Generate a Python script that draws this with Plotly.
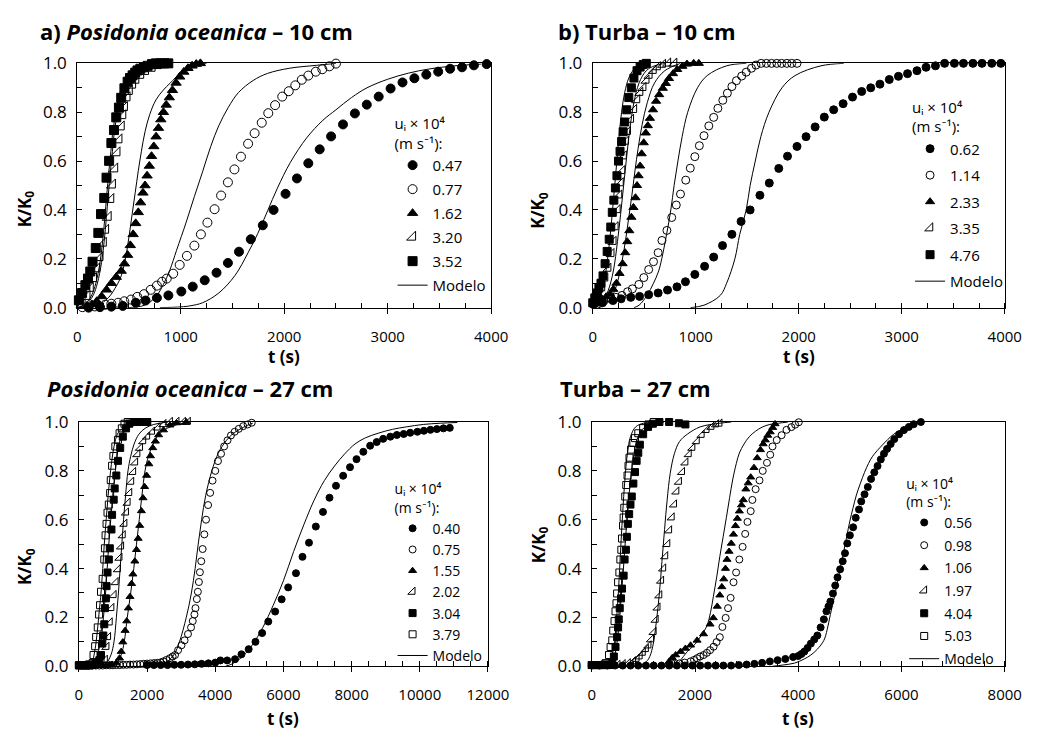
import plotly.graph_objects as go

W, H = 1057, 749
FONT = "'Open Sans', Lato, sans-serif"

# ---------------- Panel a) Posidonia oceanica - 10 cm ----------------
A_T_047 = [110,220,330,440,566,660,770,881,1006,1116,1232,1346,1456,1563,1677,1793,1897,2013,2123,2233,2343,2453,2568,2683,2798,2913,3028,3143,3258,3373,3488,3603,3718,3833,3956]
A_K_047 = [0.0,0.002,0.004,0.007,0.02,0.029,0.04,0.05,0.066,0.086,0.112,0.143,0.183,0.229,0.28,0.337,0.4,0.466,0.529,0.591,0.648,0.701,0.75,0.795,0.831,0.864,0.897,0.922,0.939,0.954,0.966,0.978,0.984,0.992,0.997]
A_T_077 = [50,170,270,330,395,455,520,580,645,710,770,820,865,927,990,1060,1132,1195,1258,1327,1390,1456,1519,1582,1651,1714,1783,1846,1912,1981,2044,2107,2170,2233,2305,2368,2437,2500]
A_K_077 = [0.002,0.005,0.012,0.016,0.02,0.026,0.033,0.044,0.055,0.073,0.09,0.106,0.119,0.139,0.175,0.212,0.254,0.3,0.348,0.403,0.459,0.513,0.566,0.618,0.671,0.714,0.757,0.796,0.829,0.864,0.886,0.91,0.933,0.95,0.966,0.976,0.988,0.999]
A_T_162 = [94,142,189,236,283,330,377,425,456,487,513,540,565,590,612,635,655,675,697,718,740,762,785,808,833,860,890,920,955,990,1030,1070,1110,1150,1190]
A_K_162 = [0.007,0.013,0.026,0.046,0.073,0.1,0.125,0.15,0.18,0.215,0.255,0.3,0.345,0.39,0.43,0.47,0.5,0.54,0.58,0.62,0.66,0.7,0.735,0.77,0.8,0.83,0.86,0.89,0.92,0.945,0.965,0.98,0.99,0.997,1.0]
A_T_320 = [47,94,126,157,189,220,252,274,299,324,340,362,384,403,425,440,456,481,503,535,566,613,660,723,786,849]
A_K_320 = [0.013,0.046,0.079,0.119,0.159,0.205,0.264,0.317,0.37,0.443,0.502,0.568,0.634,0.687,0.74,0.786,0.819,0.859,0.885,0.911,0.931,0.951,0.967,0.98,0.991,0.997]
A_T_352 = [16,47,79,104,126,148,179,204,230,261,283,308,330,355,377,403,425,456,487,510,535,560,582,610,645,680,723,760,802,840,880]
A_K_352 = [0.03,0.06,0.092,0.119,0.148,0.188,0.244,0.306,0.383,0.449,0.532,0.601,0.674,0.727,0.779,0.819,0.859,0.898,0.925,0.94,0.951,0.962,0.971,0.978,0.984,0.99,0.997,1.0,1.0,1.0,1.0]
# model curves
AM_T_352 = [0,60,100,142,180,220,245,267,285,305,325,346,370,393,425,456,519,600,700,850]
AM_K_352 = [0,0.01,0.025,0.053,0.1,0.185,0.27,0.37,0.46,0.555,0.64,0.727,0.79,0.846,0.895,0.925,0.958,0.98,0.993,1.0]
AM_T_320 = [10,75,115,157,195,235,260,282,300,320,340,361,385,408,440,471,534,615,715,865]
AM_K_320 = [0,0.01,0.025,0.053,0.1,0.185,0.27,0.37,0.46,0.555,0.64,0.727,0.79,0.846,0.895,0.925,0.958,0.98,0.993,1.0]
AM_T_162 = [100,200,300,380,425,470,500,530,560,590,620,655,700,760,830,900,1000,1100,1250]
AM_K_162 = [0,0.01,0.04,0.09,0.13,0.21,0.29,0.38,0.47,0.56,0.64,0.72,0.79,0.85,0.89,0.92,0.96,0.985,1.0]
AM_T_077 = [500,650,760,833,896,960,1053,1132,1211,1290,1368,1460,1557,1700,1840,2050,2311,2500]
AM_K_077 = [0,0.01,0.045,0.095,0.155,0.235,0.35,0.455,0.556,0.66,0.745,0.82,0.88,0.93,0.959,0.98,0.992,1.0]
AM_T_047 = [800,1000,1100,1211,1368,1525,1651,1745,1840,1934,2060,2217,2374,2500,2650,2800,3000,3200,3400,3650,3900]
AM_K_047 = [0,0.003,0.008,0.02,0.06,0.132,0.225,0.304,0.397,0.489,0.595,0.695,0.767,0.81,0.86,0.9,0.935,0.96,0.977,0.99,0.997]

# ---------------- Panel b) Turba - 10 cm ----------------
B_T_062 = [6,95,196,275,369,455,543,635,726,818,900,991,1086,1174,1260,1351,1440,1528,1623,1714,1806,1891,1983,2071,2159,2248,2339,2431,2522,2611,2699,2788,2879,2968,3056,3148,3236,3327,3416,3511,3599,3691,3779,3874,3962]
B_K_062 = [0.013,0.02,0.029,0.036,0.042,0.046,0.053,0.06,0.072,0.085,0.106,0.136,0.169,0.207,0.254,0.30,0.353,0.40,0.46,0.51,0.57,0.62,0.66,0.70,0.74,0.78,0.81,0.835,0.862,0.885,0.90,0.915,0.934,0.947,0.958,0.97,0.984,0.99,1.0,1.0,1.0,1.0,1.0,1.0,1.0]
B_T_114 = [38,107,174,227,284,338,385,448,496,543,590,635,672,720,767,811,852,903,947,991,1035,1080,1127,1174,1215,1263,1307,1351,1395,1446,1490,1541,1585,1635,1686,1736,1787,1834,1885,1932,1983]
B_K_114 = [0.013,0.029,0.037,0.042,0.05,0.065,0.077,0.095,0.123,0.156,0.188,0.225,0.275,0.316,0.369,0.42,0.465,0.522,0.571,0.618,0.663,0.704,0.744,0.779,0.816,0.849,0.878,0.905,0.929,0.948,0.964,0.98,0.993,1.0,1.0,1.0,1.0,1.0,1.0,1.0,1.0]
B_T_233 = [10,50,90,130,170,200,230,260,290,315,335,355,375,395,415,430,445,460,475,495,515,535,555,585,615,645,680,710,740,780,820,870,915,980,1030]
B_K_233 = [0.015,0.025,0.035,0.045,0.055,0.075,0.1,0.14,0.18,0.225,0.27,0.315,0.37,0.41,0.45,0.5,0.54,0.58,0.63,0.675,0.715,0.745,0.775,0.81,0.845,0.872,0.898,0.918,0.938,0.958,0.975,0.988,0.997,1.0,1.0]
B_T_335 = [30,60,90,120,150,180,200,220,240,255,270,285,300,320,340,370,400,430,460,490,520,550,590,630,680,730,790]
B_K_335 = [0.02,0.05,0.08,0.12,0.16,0.22,0.27,0.33,0.4,0.46,0.51,0.56,0.62,0.68,0.72,0.77,0.81,0.85,0.88,0.9,0.93,0.95,0.97,0.985,0.995,1.0,1.0]
B_T_476 = [0,20,40,60,80,100,120,140,160,175,190,205,220,235,250,265,280,295,310,330,350,375,400,430,460,490,520]
B_K_476 = [0.02,0.04,0.06,0.08,0.1,0.13,0.18,0.23,0.28,0.33,0.39,0.44,0.49,0.54,0.6,0.64,0.68,0.72,0.76,0.81,0.86,0.9,0.94,0.97,0.985,0.995,1.0]
BM_T_476 = [0,40,80,120,150,180,205,230,255,280,310,350,400,460,550]
BM_K_476 = [0,0.02,0.06,0.13,0.22,0.34,0.46,0.58,0.7,0.8,0.88,0.94,0.975,0.99,1.0]
BM_T_335 = [30,90,150,200,240,270,300,330,360,400,450,520,600,700]
BM_K_335 = [0,0.02,0.07,0.15,0.27,0.38,0.5,0.62,0.73,0.84,0.92,0.97,0.99,1.0]
BM_T_233 = [60,120,180,230,280,320,350,380,410,440,480,530,600,700,850]
BM_K_233 = [0,0.01,0.04,0.09,0.18,0.28,0.37,0.46,0.56,0.65,0.75,0.84,0.92,0.97,1.0]
BM_T_114 = [400,450,527,590,640,670,717,758,790,827,868,922,1017,1111,1300,1490]
BM_K_114 = [0,0.01,0.05,0.1,0.15,0.2,0.3,0.4,0.5,0.6,0.7,0.8,0.9,0.95,0.99,1.0]
BM_T_062 = [950,1080,1238,1300,1380,1427,1490,1528,1578,1632,1711,1837,1964,2216,2437]
BM_K_062 = [0,0.01,0.05,0.1,0.2,0.3,0.4,0.5,0.6,0.7,0.8,0.9,0.95,0.99,1.0]

# ---------------- Panel c) Posidonia oceanica - 27 cm ----------------
C_T_040 = [2000,2200,2400,2600,2800,3000,3200,3400,3600,3800,4000,4150,4350,4580,4770,4980,5180,5375,5556,5757,5948,6139,6368,6559,6750,6950,7160,7351,7542,7752,7953,8144,8344,8544,8736,8926,9136,9327,9528,9719,9929,10120,10311,10502,10693,10880]
C_K_040 = [0.005,0.005,0.005,0.005,0.006,0.006,0.007,0.008,0.01,0.012,0.015,0.024,0.024,0.029,0.049,0.07,0.1,0.136,0.183,0.224,0.274,0.323,0.381,0.448,0.506,0.572,0.632,0.69,0.739,0.78,0.815,0.848,0.878,0.903,0.918,0.931,0.94,0.947,0.951,0.956,0.96,0.964,0.968,0.971,0.974,0.976]
C_T_075 = [300,400,500,600,700,800,900,1000,1100,1200,1300,1400,1500,1600,1700,1800,1900,2000,2100,2200,2300,2400,2480,2570,2670,2750,2820,2910,3010,3100,3200,3290,3340,3390,3420,3460,3490,3520,3550,3590,3630,3680,3730,3790,3850,3920,4000,4080,4170,4260,4360,4460,4570,4690,4820,4950,5070]
C_K_075 = [0.003,0.003,0.003,0.003,0.003,0.004,0.004,0.004,0.005,0.005,0.006,0.006,0.007,0.007,0.008,0.009,0.01,0.011,0.012,0.013,0.014,0.016,0.02,0.026,0.033,0.04,0.046,0.066,0.086,0.106,0.132,0.159,0.185,0.212,0.238,0.275,0.305,0.345,0.385,0.43,0.48,0.54,0.6,0.66,0.71,0.76,0.8,0.84,0.87,0.9,0.925,0.945,0.96,0.972,0.983,0.99,0.997]
C_T_155 = [600,700,800,900,955,1098,1193,1241,1289,1356,1403,1451,1499,1546,1585,1642,1690,1738,1785,1833,1881,1928,1986,2053,2100,2167,2244,2339,2482,2673,2864,3150]
C_K_155 = [0.002,0.002,0.003,0.005,0.007,0.013,0.033,0.06,0.099,0.146,0.185,0.238,0.285,0.338,0.377,0.43,0.477,0.523,0.576,0.636,0.689,0.735,0.781,0.828,0.861,0.894,0.921,0.947,0.967,0.987,0.996,1.0]
C_T_202 = [190,380,480,575,668,764,811,859,907,955,1021,1079,1146,1193,1241,1289,1337,1384,1432,1480,1537,1594,1652,1718,1795,1890,2005,2148,2310,2482,2673,2864,3055,3198]
C_K_202 = [0.0,0.003,0.005,0.008,0.012,0.026,0.079,0.119,0.179,0.238,0.291,0.344,0.397,0.444,0.49,0.536,0.583,0.629,0.669,0.709,0.755,0.795,0.834,0.868,0.894,0.921,0.94,0.96,0.977,0.991,1.0,1.0,1.0,1.0]
C_T_304 = [0,100,200,300,400,500,600,649,687,716,745,764,792,811,840,878,907,955,974,1021,1050,1098,1146,1212,1289,1384,1480,1623,1800,2000]
C_K_304 = [0.003,0.003,0.003,0.003,0.005,0.01,0.025,0.046,0.093,0.126,0.172,0.238,0.278,0.328,0.384,0.437,0.483,0.56,0.62,0.682,0.728,0.781,0.841,0.894,0.94,0.974,0.993,1.0,1.0,1.0]
C_T_379 = [0,50,100,150,200,300,401,430,477,506,554,592,620,649,697,745,764,783,811,840,878,916,935,974,1012,1069,1146,1193,1260,1337,1432,1575,1718,1862,2005]
C_K_379 = [0.005,0.005,0.005,0.005,0.005,0.008,0.013,0.046,0.082,0.12,0.159,0.212,0.25,0.305,0.358,0.437,0.483,0.536,0.583,0.629,0.662,0.709,0.762,0.821,0.861,0.9,0.927,0.954,0.974,0.993,1.0,1.0,1.0,1.0,1.0]
CM_T_379 = [300,400,450,506,560,600,649,700,745,800,859,930,1031,1130,1241,1450,1718]
CM_K_379 = [0,0.02,0.05,0.1,0.17,0.23,0.3,0.4,0.5,0.6,0.7,0.8,0.9,0.95,0.97,0.99,1.0]
CM_T_304 = [400,500,560,600,649,700,740,783,830,878,935,993,1070,1165,1270,1384,1600,1909]
CM_K_304 = [0,0.02,0.05,0.08,0.1,0.17,0.23,0.3,0.4,0.5,0.6,0.7,0.8,0.9,0.95,0.97,0.99,1.0]
CM_T_202 = [750,850,950,1030,1100,1160,1210,1260,1310,1370,1440,1520,1620,1760,1950,2200,2600]
CM_K_202 = [0,0.02,0.05,0.1,0.2,0.3,0.4,0.5,0.6,0.7,0.8,0.86,0.91,0.95,0.975,0.99,1.0]
CM_T_155 = [1000,1150,1250,1330,1420,1520,1610,1690,1770,1850,1940,2040,2180,2350,2600,2900,3200]
CM_K_155 = [0,0.02,0.05,0.1,0.2,0.3,0.4,0.5,0.6,0.7,0.8,0.86,0.91,0.95,0.975,0.99,1.0]
CM_T_075 = [2300,2600,2800,2950,3150,3300,3410,3500,3600,3720,3900,4050,4200,4500,5000,5100]
CM_K_075 = [0,0.02,0.05,0.1,0.2,0.3,0.4,0.5,0.6,0.7,0.8,0.86,0.9,0.95,0.99,0.995]
CM_T_040 = [4300,4500,4800,5100,5400,5700,6000,6300,6600,6900,7200,7500,7800,8100,8400,8800,9200,9600,10100,10600,11100]
CM_K_040 = [0,0.01,0.04,0.09,0.16,0.25,0.35,0.47,0.58,0.68,0.76,0.82,0.87,0.91,0.935,0.955,0.97,0.98,0.99,0.995,0.998]

# ---------------- Panel d) Turba - 27 cm ----------------
D_T_056 = [0,150,300,450,600,750,900,1050,1200,1350,1500,1650,1800,1950,2100,2250,2400,2550,2700,2850,3000,3150,3300,3450,3600,3750,3900,
           4000,4060,4117,4180,4244,4310,4370,4433,4496,4546,4585,4622,4672,4716,4760,4811,4861,4905,4949,5000,5063,5113,5176,5220,5284,5347,5410,5473,5536,5599,5660,5720,5790,5860,5953,6047,6142,6236,6375]
D_K_056 = [0.003,0.003,0.003,0.003,0.003,0.003,0.003,0.003,0.003,0.003,0.003,0.003,0.003,0.003,0.003,0.003,0.003,0.003,0.003,0.005,0.007,0.01,0.014,0.02,0.025,0.03,0.038,
           0.042,0.05,0.06,0.075,0.093,0.11,0.126,0.159,0.192,0.225,0.245,0.265,0.298,0.331,0.364,0.397,0.43,0.463,0.503,0.536,0.569,0.608,0.642,0.675,0.704,0.734,0.767,0.794,0.82,0.847,0.87,0.89,0.91,0.93,0.95,0.967,0.98,0.991,1.0]
D_T_098 = [1500,1600,1700,1800,1914,1980,2040,2100,2166,2230,2292,2360,2418,2481,2531,2594,2640,2690,2746,2796,2859,2922,2972,3016,3079,3111,3174,3249,3312,3394,3457,3501,3583,3677,3772,3866,3940,4010]
D_K_098 = [0.008,0.01,0.012,0.015,0.02,0.026,0.033,0.04,0.046,0.055,0.066,0.08,0.099,0.119,0.161,0.198,0.238,0.28,0.344,0.384,0.437,0.489,0.542,0.591,0.635,0.681,0.725,0.761,0.8,0.833,0.866,0.9,0.926,0.946,0.968,0.979,0.989,0.999]
D_T_106 = [1500,1560,1625,1720,1814,1914,2040,2166,2292,2355,2431,2481,2520,2557,2590,2620,2660,2702,2745,2784,2820,2859,2900,2935,2985,3030,3079,3142,3205,3268,3320,3362,3410,3457,3505,3551]
D_K_106 = [0.02,0.035,0.046,0.06,0.073,0.086,0.106,0.132,0.172,0.198,0.245,0.291,0.325,0.357,0.4,0.437,0.47,0.503,0.54,0.575,0.605,0.635,0.66,0.681,0.725,0.75,0.774,0.813,0.853,0.886,0.91,0.926,0.945,0.959,0.977,0.992]
D_T_197 = [500,600,700,800,870,930,990,1050,1100,1150,1200,1240,1275,1310,1345,1385,1425,1465,1500,1550,1595,1640,1690,1750,1815,1880,1950,2035,2130,2225,2320,2410,2475]
D_K_197 = [0.005,0.008,0.012,0.02,0.03,0.04,0.055,0.07,0.085,0.11,0.14,0.19,0.24,0.29,0.35,0.40,0.45,0.50,0.556,0.609,0.662,0.715,0.755,0.795,0.834,0.868,0.894,0.921,0.947,0.967,0.98,0.99,0.993]
D_T_404 = [0,50,100,150,200,250,300,350,397,428,460,491,510,523,542,567,586,617,636,661,680,699,724,750,775,806,838,869,901,932,995,1090,1184,1310,1499,1688,1814]
D_K_404 = [0.005,0.005,0.005,0.005,0.005,0.005,0.005,0.005,0.013,0.04,0.079,0.119,0.159,0.192,0.238,0.278,0.318,0.371,0.437,0.477,0.53,0.583,0.623,0.662,0.695,0.748,0.795,0.841,0.874,0.907,0.95,0.98,0.993,1.0,1.0,0.995,0.99]
D_T_503 = [0,50,100,150,200,250,271,334,365,397,416,441,460,479,491,510,535,554,573,586,605,617,630,649,668,693,712,731,762,806,838,901,995,1100,1200]
D_K_503 = [0.005,0.005,0.005,0.005,0.005,0.008,0.013,0.046,0.079,0.106,0.146,0.185,0.225,0.258,0.298,0.344,0.384,0.437,0.477,0.523,0.576,0.609,0.649,0.695,0.742,0.781,0.821,0.854,0.887,0.914,0.934,0.954,0.975,0.99,1.0]
DM_T_503 = [300,400,450,500,540,570,600,640,690,750,850,1000,1200]
DM_K_503 = [0,0.05,0.12,0.25,0.4,0.52,0.63,0.76,0.87,0.94,0.98,0.995,1.0]
DM_T_404 = [350,450,520,570,620,660,700,750,810,880,980,1150,1400]
DM_K_404 = [0,0.05,0.15,0.28,0.42,0.54,0.65,0.76,0.86,0.93,0.97,0.99,1.0]
DM_T_197 = [900,1000,1100,1180,1250,1310,1360,1410,1460,1520,1600,1700,1850,2100,2480,2700]
DM_K_197 = [0,0.01,0.03,0.08,0.18,0.3,0.43,0.56,0.68,0.79,0.87,0.92,0.95,0.98,0.995,1.0]
DM_T_106 = [1600,1700,1851,2000,2100,2229,2300,2355,2420,2481,2545,2607,2670,2733,2800,2859,2950,3048,3170,3300,3450,3614,3800]
DM_K_106 = [0.0,0.02,0.06,0.09,0.12,0.165,0.22,0.285,0.365,0.45,0.53,0.608,0.69,0.767,0.83,0.873,0.91,0.939,0.962,0.979,0.99,0.995,1.0]
DM_T_056 = [3500,3700,3929,4117,4244,4370,4496,4560,4622,4685,4748,4811,4874,4937,5000,5063,5126,5205,5284,5360,5441,5630,5850,6100,6380]
DM_K_056 = [0,0.005,0.013,0.03,0.046,0.07,0.106,0.15,0.212,0.27,0.331,0.4,0.463,0.53,0.595,0.65,0.701,0.75,0.794,0.83,0.86,0.906,0.95,0.98,1.0]

# ---------------- Layout helpers ----------------
def fx(p):
    return p / W

def fy(p):
    return 1 - p / H

LEG_TITLE = "uᵢ × 10⁴<br>(m s⁻¹):"

PANELS = [
    dict(xa="x", ya="y", leg="legend", x0=75, x1=499, yt=53, yb=305, xmax=4000, dt=1000, minor=250,
         legx=398, legy=101, gap=1.5, msize=9, lfont=15),
    dict(xa="x2", ya="y2", leg="legend2", x0=603, x1=1025, yt=53, yb=305, xmax=4000, dt=1000, minor=250,
         legx=928, legy=84, gap=4, msize=8, lfont=15),
    dict(xa="x3", ya="y3", leg="legend3", x0=76.7, x1=495.7, yt=423, yb=675, xmax=12000, dt=2000, minor=500,
         legx=398, legy=479, gap=0, msize=7, lfont=14),
    dict(xa="x4", ya="y4", leg="legend4", x0=602, x1=1025, yt=423, yb=675, xmax=8000, dt=2000, minor=400,
         legx=922, legy=473, gap=1.5, msize=7, lfont=14),
]

STYLE = {
    "fc": "circle",
    "oc": "circle-open",
    "ft": "triangle-up",
    "ot": "triangle-se-open",
    "fs": "square",
    "os": "square-open",
}

fig = go.Figure()

def add_series(pi, t, k, name, style):
    p = PANELS[pi]
    size = p["msize"] + (1 if style == "ot" else 0)
    fig.add_trace(go.Scatter(
        x=t, y=k, mode="markers", name=name, xaxis=p["xa"], yaxis=p["ya"], legend=p["leg"],
        legendgroup=f"{pi}-{name}",
        marker=dict(symbol=STYLE[style], size=size, color="black", line=dict(color="black", width=1)),
        cliponaxis=False, hoverinfo="skip"))

def add_model(pi, t, k, show):
    p = PANELS[pi]
    fig.add_trace(go.Scatter(
        x=t, y=k, mode="lines", name="Modelo", xaxis=p["xa"], yaxis=p["ya"], legend=p["leg"],
        legendgroup=f"{pi}-model", showlegend=show,
        line=dict(color="black", width=1, shape="spline", smoothing=1.0),
        cliponaxis=False, hoverinfo="skip"))

# panel a
add_series(0, A_T_047, A_K_047, "0.47", "fc")
add_series(0, A_T_077, A_K_077, "0.77", "oc")
add_series(0, A_T_162, A_K_162, "1.62", "ft")
add_series(0, A_T_320, A_K_320, "3.20", "ot")
add_series(0, A_T_352, A_K_352, "3.52", "fs")
add_model(0, AM_T_352, AM_K_352, True)
add_model(0, AM_T_320, AM_K_320, False)
add_model(0, AM_T_162, AM_K_162, False)
add_model(0, AM_T_077, AM_K_077, False)
add_model(0, AM_T_047, AM_K_047, False)
# panel b
add_series(1, B_T_062, B_K_062, "0.62", "fc")
add_series(1, B_T_114, B_K_114, "1.14", "oc")
add_series(1, B_T_233, B_K_233, "2.33", "ft")
add_series(1, B_T_335, B_K_335, "3.35", "ot")
add_series(1, B_T_476, B_K_476, "4.76", "fs")
add_model(1, BM_T_476, BM_K_476, True)
add_model(1, BM_T_335, BM_K_335, False)
add_model(1, BM_T_233, BM_K_233, False)
add_model(1, BM_T_114, BM_K_114, False)
add_model(1, BM_T_062, BM_K_062, False)
# panel c
add_series(2, C_T_040, C_K_040, "0.40", "fc")
add_series(2, C_T_075, C_K_075, "0.75", "oc")
add_series(2, C_T_155, C_K_155, "1.55", "ft")
add_series(2, C_T_202, C_K_202, "2.02", "ot")
add_series(2, C_T_304, C_K_304, "3.04", "fs")
add_series(2, C_T_379, C_K_379, "3.79", "os")
add_model(2, CM_T_379, CM_K_379, True)
add_model(2, CM_T_304, CM_K_304, False)
add_model(2, CM_T_202, CM_K_202, False)
add_model(2, CM_T_155, CM_K_155, False)
add_model(2, CM_T_075, CM_K_075, False)
add_model(2, CM_T_040, CM_K_040, False)
# panel d
add_series(3, D_T_056, D_K_056, "0.56", "fc")
add_series(3, D_T_098, D_K_098, "0.98", "oc")
add_series(3, D_T_106, D_K_106, "1.06", "ft")
add_series(3, D_T_197, D_K_197, "1.97", "ot")
add_series(3, D_T_404, D_K_404, "4.04", "fs")
add_series(3, D_T_503, D_K_503, "5.03", "os")
add_model(3, DM_T_503, DM_K_503, True)
add_model(3, DM_T_404, DM_K_404, False)
add_model(3, DM_T_197, DM_K_197, False)
add_model(3, DM_T_106, DM_K_106, False)
add_model(3, DM_T_056, DM_K_056, False)

xtickfont = dict(family=FONT, size=15, color="black")
ytickfont = dict(family=FONT, size=17, color="black")
layout = dict(
    width=W, height=H, margin=dict(l=0, r=0, t=0, b=0),
    paper_bgcolor="white", plot_bgcolor="white",
    font=dict(family=FONT, size=15, color="black"),
    annotations=[],
)

for i, p in enumerate(PANELS):
    xk = "xaxis" if i == 0 else f"xaxis{i+1}"
    yk = "yaxis" if i == 0 else f"yaxis{i+1}"
    layout[xk] = dict(
        domain=[fx(p["x0"]), fx(p["x1"])], range=[0, p["xmax"]], anchor=p["ya"],
        tick0=0, dtick=p["dt"], tickformat="d", ticks="outside", ticklen=5, tickcolor="black", tickwidth=1,
        showline=True, linecolor="black", linewidth=1, mirror=True,
        showgrid=False, zeroline=False, tickfont=xtickfont, ticklabelstandoff=10,
        minor=dict(tick0=0, dtick=p["minor"], ticks="inside", ticklen=5, tickcolor="black", showgrid=False),
    )
    layout[yk] = dict(
        domain=[fy(p["yb"]), fy(p["yt"])], range=[0, 1], anchor=p["xa"],
        tick0=0, dtick=0.2, tickformat=".1f", ticks="inside", ticklen=5, tickcolor="black",
        showline=True, linecolor="black", linewidth=1, mirror=True,
        showgrid=False, zeroline=False, tickfont=ytickfont, ticklabelstandoff=6,
        minor=dict(tick0=0, dtick=0.1, ticks="inside", ticklen=5, tickcolor="black", showgrid=False),
    )
    layout[p["leg"]] = dict(
        x=fx(p["legx"]), y=fy(p["legy"]), xanchor="left", yanchor="top",
        bgcolor="rgba(0,0,0,0)", borderwidth=0,
        font=dict(family=FONT, size=p["lfont"], color="black"),
        title=dict(text=LEG_TITLE, font=dict(family=FONT, size=p["lfont"], color="black"), side="top"),
        tracegroupgap=p["gap"], itemwidth=30,
    )

TITLES = [
    ("<b>a) <i>Posidonia oceanica</i> – 10 cm</b>", 35, 20),
    ("<b>b) Turba – 10 cm</b>", 565, 20),
    ("<b><i>Posidonia oceanica</i> – 27 cm</b>", 42, 388),
    ("<b>Turba – 27 cm</b>", 567, 388),
]
for text, x, y in TITLES:
    layout["annotations"].append(dict(
        text=text, x=fx(x), y=fy(y), xref="paper", yref="paper", xanchor="left", yanchor="middle",
        showarrow=False, font=dict(family=FONT, size=22, color="black")))

XTITLES = [((75 + 499) / 2, 355), ((603 + 1025) / 2, 355), ((76.7 + 495.7) / 2, 729), ((602 + 1025) / 2, 729)]
for x, y in XTITLES:
    layout["annotations"].append(dict(
        text="<b>t (s)</b>", x=fx(x), y=fy(y), xref="paper", yref="paper", xanchor="center", yanchor="middle",
        showarrow=False, font=dict(family=FONT, size=17, color="black")))

YTITLES = [(22, 203), (548, 205), (22, 572), (548, 550)]
for x, y in YTITLES:
    layout["annotations"].append(dict(
        text="<b>K/K<sub>0</sub></b>", x=fx(x), y=fy(y), xref="paper", yref="paper", xanchor="center",
        yanchor="middle", textangle=-90, showarrow=False, font=dict(family=FONT, size=17, color="black")))

fig.update_layout(**layout)
fig.write_html("out.html")
